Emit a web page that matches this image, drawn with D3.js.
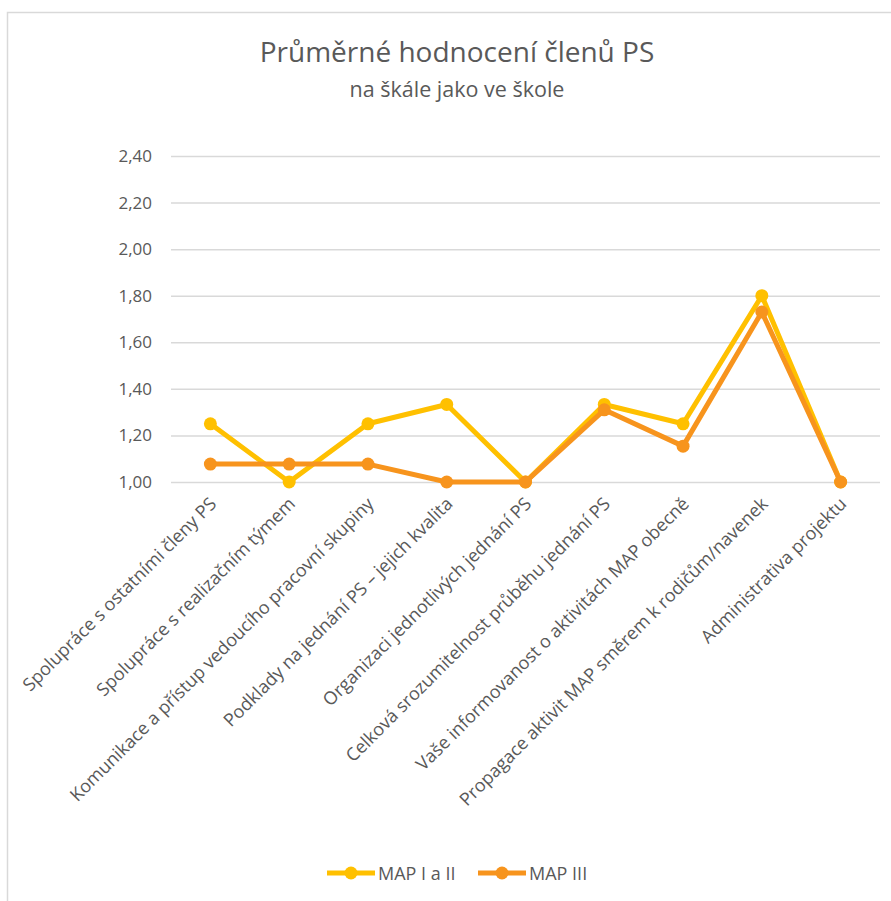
<!DOCTYPE html>
<meta charset="utf-8">
<style>
  body{ margin:0; background:#fff; }
  text{ font-family: 'Open Sans', 'Noto Sans', sans-serif; fill:#595959; }
</style>
<svg id='chart'></svg>
<script src="https://d3js.org/d3.v7.min.js"></script>
<script>
var categories = [
  'Spolupráce s ostatními členy PS',
  'Spolupráce s realizačním týmem',
  'Komunikace a přístup vedoucího pracovní skupiny',
  'Podklady na jednání PS – jejich kvalita',
  'Organizaci jednotlivých jednání PS',
  'Celková srozumitelnost průběhu jednání PS',
  'Vaše informovanost o aktivitách MAP obecně',
  'Propagace aktivit MAP směrem k rodičům/navenek',
  'Administrativa projektu'
]
var seriesNames = ['MAP I a II', 'MAP III']
var mapOne = [1.25, 1.00, 1.25, 1.333, 1.00, 1.333, 1.25, 1.80, 1.00]
var mapThree = [1.077, 1.077, 1.077, 1.00, 1.00, 1.31, 1.154, 1.73, 1.00]
var yTicks = [1.0, 1.2, 1.4, 1.6, 1.8, 2.0, 2.2, 2.4]

var width = 891,
    height = 901,
    colors = ['#FFC000', '#F7941D'],
    margin = {top: 156, right: 11, bottom: 419, left: 171}

var svg = d3.select('#chart')
  .attr('width', width)
  .attr('height', height)

// chart frame
svg.append('rect')
  .attr('x', 7.5).attr('y', 12.5)
  .attr('width', 920).attr('height', 920)
  .attr('fill', 'none')
  .attr('stroke', '#d9d9d9')
  .attr('stroke-width', 1.5)

var x = d3.scaleBand()
  .domain(categories)
  .range([margin.left, width - margin.right])

var y = d3.scaleLinear()
  .domain([1, 2.4])
  .range([height - margin.bottom, margin.top])

// title
svg.append('text')
  .attr('x', 457).attr('y', 62)
  .attr('text-anchor', 'middle')
  .style('font-size', '28px')
  .text('Průměrné hodnocení členů PS')

svg.append('text')
  .attr('x', 457).attr('y', 97)
  .attr('text-anchor', 'middle')
  .style('font-size', '21.5px')
  .text('na škále jako ve škole')

// grid + y labels
var yAxis = svg.append('g')
  .attr('transform', `translate(${margin.left}, 0)`)
  .call(d3.axisLeft(y)
    .tickValues(yTicks)
    .tickSize(-(width - margin.left - margin.right))
    .tickPadding(19)
    .tickFormat(d => d3.format('.2f')(d).replace('.', ',')))

yAxis.select('.domain').remove()
yAxis.selectAll('line').attr('stroke', '#d9d9d9').attr('stroke-width', 1.5)
yAxis.selectAll('text')
  .style('font-size', '17px')
  .style('font-family', "'Open Sans', sans-serif")
  .attr('fill', '#595959')

// x labels
var xAxis = svg.append('g')
  .attr('transform', `translate(0, ${height - margin.bottom})`)
  .call(d3.axisBottom(x).tickSize(0).tickPadding(0))

xAxis.select('.domain').remove()
xAxis.selectAll('text')
  .attr('text-anchor', 'end')
  .attr('dy', null)
  .attr('y', 0)
  .attr('transform', 'translate(7, 23) rotate(-45)')
  .style('font-size', '18px')
  .style('font-family', "'Open Sans', sans-serif")
  .attr('fill', '#595959')

// series
var cx = d => x(d) + x.bandwidth() / 2
var line = d3.line()
  .x((d, i) => cx(categories[i]))
  .y(d => y(d))

;[mapOne, mapThree].forEach(function(values, s){
  var g = svg.append('g')
  g.append('path')
    .datum(values)
    .attr('d', line)
    .attr('fill', 'none')
    .attr('stroke', colors[s])
    .attr('stroke-width', 5)
    .attr('stroke-linejoin', 'round')
    .attr('stroke-linecap', 'round')
  g.selectAll('circle')
    .data(values)
    .enter()
    .append('circle')
    .attr('cx', (d, i) => cx(categories[i]))
    .attr('cy', d => y(d))
    .attr('r', 6.5)
    .attr('fill', colors[s])
})

// legend
var legendX = [327, 478]
var legend = svg.selectAll('.legend')
  .data(seriesNames)
  .enter()
  .append('g')
  .attr('transform', (d, i) => `translate(${legendX[i]}, 873)`)

legend.append('line')
  .attr('x1', 0).attr('x2', 48)
  .attr('stroke', (d, i) => colors[i])
  .attr('stroke-width', 5)
legend.append('circle')
  .attr('cx', 24).attr('r', 6.5)
  .attr('fill', (d, i) => colors[i])
legend.append('text')
  .attr('x', 51).attr('y', 7)
  .style('font-size', '18px')
  .text(d => d)
</script>
